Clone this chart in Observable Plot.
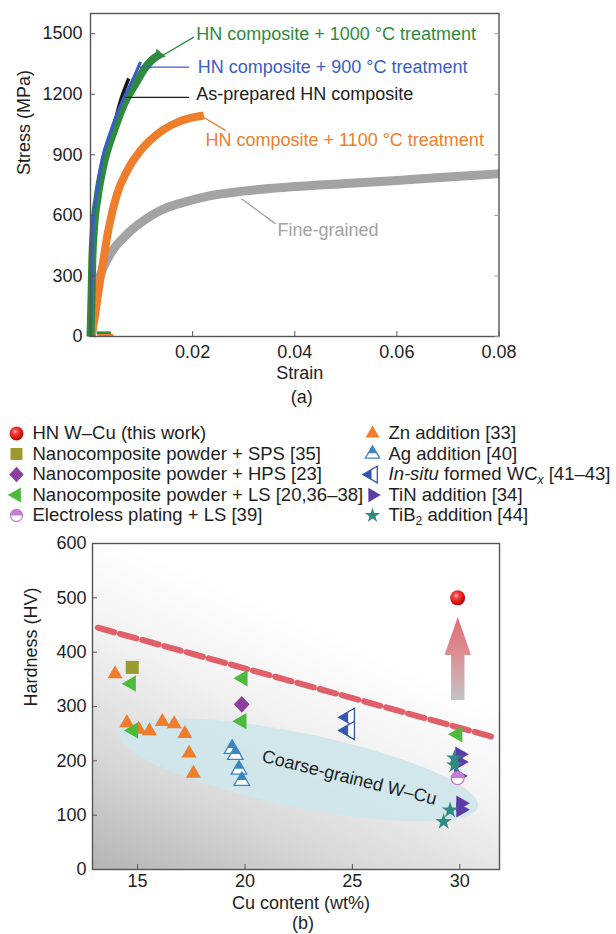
<!DOCTYPE html>
<html><head><meta charset="utf-8">
<script src="https://cdn.jsdelivr.net/npm/d3@7"></script>
<script src="https://cdn.jsdelivr.net/npm/@observablehq/plot@0.6"></script>
<style>
body{margin:0;background:#fff;}
#wrap{width:616px;}
#wrap svg{display:block;}
</style></head><body><div id="wrap"></div>
<script>
// ================= DATA: (a) stress–strain curves =================
const fineStrain = [0.0001, 0.0002, 0.00065, 0.001, 0.002, 0.0039, 0.0072, 0.0104, 0.0137, 0.0183, 0.0235, 0.03, 0.04, 0.05, 0.06, 0.07, 0.08];
const fineStress = [0, 15, 145, 228, 310, 409, 508, 574, 624, 665, 698, 720, 743, 758, 773, 790, 806];

const t1100Strain = [0.0002, 0.0006, 0.001, 0.0013, 0.0023, 0.0036, 0.0052, 0.0072, 0.0098, 0.0131, 0.017, 0.0202, 0.0222];
const t1100Stress = [0, 60, 120, 178, 343, 541, 706, 822, 921, 1003, 1061, 1086, 1095];

const asPrepStrain = [0, 0.0002, 0.0004, 0.001, 0.002, 0.0039, 0.0059, 0.0075];
const asPrepStress = [0, 300, 480, 600, 757, 971, 1169, 1278];

const t1000Strain = [0, 0.0001, 0.0002, 0.00033, 0.00065, 0.0014, 0.0026, 0.0046, 0.0069, 0.0088, 0.0108, 0.0127, 0.0134];
const t1000Stress = [0, 100, 193, 358, 523, 690, 855, 1020, 1169, 1251, 1334, 1383, 1393];

const t900Strain = [0, 0.0001, 0.00024, 0.00045, 0.0011, 0.0021, 0.004, 0.0063, 0.0085, 0.0098];
const t900Stress = [0, 150, 358, 523, 690, 855, 1020, 1169, 1285, 1360];

const t1000TailStrain = [0.0012, 0.004], t1000TailStress = [18, 18];
const t1100TailStrain = [0.0013, 0.0045], t1100TailStress = [5, 5];

const strainTicks = [0.02, 0.04, 0.06, 0.08];
const stressTicks = [0, 300, 600, 900, 1200, 1500];

const curveLabels = [
  {text: "HN composite + 1000 °C treatment", color: "#2e8a3c", tx: 0.0207, ty: 1499, x1: 0.01412, y1: 1392, x2: 0.02023, y2: 1483},
  {text: "HN composite + 900 °C treatment", color: "#3a5cc8", tx: 0.0210, ty: 1334, x1: 0.00954, y1: 1334, x2: 0.01931, y2: 1334},
  {text: "As-prepared HN composite", color: "#1e1e1e", tx: 0.0207, ty: 1202, x1: 0.00685, y1: 1185, x2: 0.01931, y2: 1185},
  {text: "HN composite + 1100 °C treatment", color: "#ee7e2c", tx: 0.0225, ty: 971, x1: 0.02213, y1: 1086, x2: 0.0265, y2: 1020},
  {text: "Fine-grained", color: "#a2a2a2", tx: 0.0366, ty: 525, x1: 0.02957, y1: 682, x2: 0.03627, y2: 558}
];

// ================= DATA: (b) hardness vs Cu content =================
const hnX = [29.9], hnY = [500];
const spsX = [14.75], spsY = [372];
const hpsX = [19.85], hpsY = [304];
const lsX = [14.7, 14.8, 19.9, 19.85, 29.9], lsY = [342, 256, 352, 273, 249];
const elX = [29.9], elY = [168];
const znX = [13.95, 14.5, 15.05, 15.55, 16.15, 16.7, 17.2, 17.4, 17.6];
const znY = [360, 270, 258, 255, 272, 268, 250, 214, 177];
const agX = [19.4, 19.55, 19.72, 19.85], agY = [222, 211, 184, 163];
const wcX = [24.85, 24.85], wcY = [280, 256];
const tinX = [30.0, 30.0, 29.95, 30.05, 30.05], tinY = [212, 198, 172, 122, 110];
const tibX = [29.75, 29.75, 29.55, 29.25], tibY = [205, 192, 109, 88];

const boundX = [13.15, 31.45], boundY = [445, 245];
const coarseRegion = {from: [14.17, 250], to: [30.87, 115]};
const arrowSpec = {x: 29.93, from: 311, head: 394, to: 464};
const coarseLabel = [{x: 24.86, y: 169, text: "Coarse-grained W–Cu"}];

const cuTicks = [15, 20, 25, 30];
const hvTicks = [0, 100, 200, 300, 400, 500, 600];

const legendItems = [
  {key: "hn", label: "HN W–Cu (this work)", col: 0, row: 0},
  {key: "sps", label: "Nanocomposite powder + SPS [35]", col: 0, row: 1},
  {key: "hps", label: "Nanocomposite powder + HPS [23]", col: 0, row: 2},
  {key: "ls", label: "Nanocomposite powder + LS [20,36–38]", col: 0, row: 3},
  {key: "el", label: "Electroless plating + LS [39]", col: 0, row: 4},
  {key: "zn", label: "Zn addition [33]", col: 1, row: 0},
  {key: "ag", label: "Ag addition [40]", col: 1, row: 1},
  {key: "wc", label: "In-situ formed WCx [41–43]", col: 1, row: 2},
  {key: "tin", label: "TiN addition [34]", col: 1, row: 3},
  {key: "tib", label: "TiB2 addition [44]", col: 1, row: 4}
];

// ================= helpers =================
const zip = (xs, ys, extra = {}) => xs.map((x, i) => ({x, y: ys[i], ...extra}));
const poly = (pts) => ({draw(ctx, size) {
  const r = Math.sqrt(size / Math.PI);
  pts.forEach(([px, py], i) => i ? ctx.lineTo(px * r, py * r) : ctx.moveTo(px * r, py * r));
  ctx.closePath();
}});
const triUp = poly([[0, -1.5], [1.3, 0.75], [-1.3, 0.75]]);
const triUpTop = poly([[0, -1.5], [0.78, -0.15], [-0.78, -0.15]]);
const triLeft = poly([[-1.5, 0], [0.75, -1.3], [0.75, 1.3]]);
const triLeftTip = poly([[-1.5, 0], [-0.15, -0.78], [-0.15, 0.78]]);
const triRight = poly([[1.5, 0], [-0.75, -1.3], [-0.75, 1.3]]);
const square = poly([[-1, -1], [1, -1], [1, 1], [-1, 1]]);
const diamond = poly([[0, -1.3], [1.2, 0], [0, 1.3], [-1.2, 0]]);
const halfTop = {draw(ctx, size) {
  const r = Math.sqrt(size / Math.PI);
  ctx.moveTo(-r, 0); ctx.arc(0, 0, r, Math.PI, 2 * Math.PI); ctx.closePath();
}};

const markerStyles = {
  hn: {r: 7.5, parts: [{symbol: "circle", fill: "url(#sphereGrad)"}]},
  sps: {r: 6.5, parts: [{symbol: square, fill: "#9c9a2e"}]},
  hps: {r: 6.5, parts: [{symbol: diamond, fill: "#8d3f9f"}]},
  ls: {r: 6.3, parts: [{symbol: triLeft, fill: "#4cbb3a"}]},
  el: {r: 6.5, parts: [{symbol: "circle", fill: "white", stroke: "#c27fd0", strokeWidth: 1.3}, {symbol: halfTop, fill: "#c27fd0"}]},
  zn: {r: 5.8, parts: [{symbol: triUp, fill: "#ee7d2c"}]},
  ag: {r: 6, parts: [{symbol: triUp, fill: "white", stroke: "#3b86c2", strokeWidth: 1.3}, {symbol: triUpTop, fill: "#3b86c2"}]},
  wc: {r: 7, parts: [{symbol: triLeft, fill: "white", stroke: "#3556b0", strokeWidth: 1.3}, {symbol: triLeftTip, fill: "#3556b0"}]},
  tin: {r: 6, parts: [{symbol: triRight, fill: "#5a3ba8"}]},
  tib: {r: 5.2, parts: [{symbol: "star", fill: "#2f8c84"}]}
};
function markerMarks(key, data, scale = 1) {
  const s = markerStyles[key];
  return s.parts.map(p => Plot.dot(data, {
    x: "x", y: "y", r: s.r * scale, symbol: p.symbol, fill: p.fill,
    stroke: p.stroke || "none", strokeWidth: p.strokeWidth || 0
  }));
}
const FONT = "Liberation Sans, Arial, Helvetica, sans-serif";
const baseStyle = {fontFamily: FONT, fontSize: "18px", color: "#1e1e1e", background: "white"};
const FRAME = "#555";

function axes(xTicks, yTicks, xFmt, padX, padY, rightTicks) {
  const m = [
    Plot.axisX({ticks: xTicks, tickSize: 0, tickPadding: padX, tickFormat: xFmt, label: null}),
    Plot.axisX({ticks: xTicks, tickSize: -5, tickFormat: () => "", label: null, stroke: FRAME}),
    Plot.axisY({ticks: yTicks, tickSize: 0, tickPadding: padY, tickFormat: d => String(d), label: null}),
    Plot.axisY({ticks: yTicks, tickSize: -5, tickFormat: () => "", label: null, stroke: FRAME})
  ];
  if (rightTicks) m.push(Plot.axisY({ticks: yTicks, anchor: "right", tickSize: -5, tickFormat: () => "", label: null, stroke: "#999"}));
  return m;
}

const wrap = document.getElementById("wrap");

// ================= (a) =================
const curve = (xs, ys, stroke, w) => Plot.line(zip(xs, ys), {x: "x", y: "y", stroke, strokeWidth: w, curve: "monotone-x", strokeLinecap: "butt", strokeLinejoin: "round"});
const greenEnd = [{x: t1000Strain[t1000Strain.length - 1], y: t1000Stress[t1000Stress.length - 1]}];
const plotA = Plot.plot({
  width: 616, height: 410,
  marginTop: 13, marginBottom: 74, marginLeft: 90, marginRight: 117.5,
  x: {domain: [0, 0.08]}, y: {domain: [0, 1600]},
  style: baseStyle,
  marks: [
    curve(fineStrain, fineStress, "#a3a3a3", 9),
    curve(t1100Strain, t1100Stress, "#ee7e2c", 8),
    curve(t1000TailStrain, t1000TailStress, "#2e8a3c", 3),
    curve(t1100TailStrain, t1100TailStress, "#ee7e2c", 3),
    curve(asPrepStrain, asPrepStress, "#161616", 3.5),
    curve(t1000Strain, t1000Stress, "#2e8a3c", 8),
    Plot.dot(greenEnd, {x: "x", y: "y", symbol: triRight, r: 4.6, fill: "#2e8a3c", rotate: 10}),
    curve(t900Strain, t900Stress, "#3a5cc8", 3),
    ...curveLabels.flatMap(a => [
      Plot.link([a], {x1: "x1", y1: "y1", x2: "x2", y2: "y2", stroke: a.color, strokeWidth: 1.3}),
      Plot.text([a], {x: "tx", y: "ty", text: "text", fill: a.color, textAnchor: "start", lineAnchor: "middle", fontSize: 18})
    ]),
    Plot.frame({stroke: FRAME, strokeWidth: 1.4}),
    ...axes(strainTicks, stressTicks, d => d.toFixed(2), 9, 8, true),
    Plot.text(["Stress (MPa)"], {frameAnchor: "left", dx: -66, rotate: -90, text: d => d, lineAnchor: "middle", fontSize: 18}),
    Plot.text(["Strain"], {frameAnchor: "bottom", dy: 37, dx: 5, text: d => d, lineAnchor: "middle", fontSize: 18}),
    Plot.text(["(a)"], {frameAnchor: "bottom", dy: 61, dx: 7, text: d => d, lineAnchor: "middle", fontSize: 18})
  ]
});
wrap.appendChild(plotA);

// ================= legend =================
const legendPlot = Plot.plot({
  width: 616, height: 123, margin: 0,
  x: {domain: [0, 1], range: [16, 372], axis: null},
  y: {domain: [0, 4], range: [23, 105], axis: null},
  style: baseStyle,
  marks: [
    ...Object.keys(markerStyles).flatMap(k => markerMarks(k, legendItems.filter(d => d.key === k).map(d => ({x: d.col, y: d.row})), 0.92)),
    Plot.text(legendItems, {x: "col", y: "row", text: "label", dx: 16, textAnchor: "start", lineAnchor: "middle", fontSize: 18.5, fill: "#1e1e1e"})
  ]
});
legendPlot.querySelectorAll("text").forEach(t => {
  if (t.textContent === "In-situ formed WCx [41–43]") {
    t.innerHTML = '<tspan font-style="italic">In-situ</tspan> formed WC<tspan font-style="italic" font-size="12" dy="4">x</tspan><tspan dy="-4"> [41–43]</tspan>';
  } else if (t.textContent === "TiB2 addition [44]") {
    t.innerHTML = 'TiB<tspan font-size="12" dy="4">2</tspan><tspan dy="-4"> addition [44]</tspan>';
  }
});
wrap.appendChild(legendPlot);

// ================= (b) =================
const SVGNS = "http://www.w3.org/2000/svg";
const ellipseMark = (index, scales) => {
  const x1 = scales.x(coarseRegion.from[0]), y1 = scales.y(coarseRegion.from[1]);
  const x2 = scales.x(coarseRegion.to[0]), y2 = scales.y(coarseRegion.to[1]);
  const cx = (x1 + x2) / 2, cy = (y1 + y2) / 2;
  const a = Math.hypot(x2 - x1, y2 - y1) / 2, ang = Math.atan2(y2 - y1, x2 - x1) * 180 / Math.PI;
  const el = document.createElementNS(SVGNS, "ellipse");
  el.setAttribute("cx", cx); el.setAttribute("cy", cy);
  el.setAttribute("rx", a); el.setAttribute("ry", 37);
  el.setAttribute("transform", `rotate(${ang} ${cx} ${cy})`);
  el.setAttribute("fill", "#cfe6eb"); el.setAttribute("fill-opacity", "0.92");
  return el;
};
const arrowMark = (index, scales) => {
  const x = scales.x(arrowSpec.x), yb = scales.y(arrowSpec.from), yh = scales.y(arrowSpec.head), yt = scales.y(arrowSpec.to);
  const p = document.createElementNS(SVGNS, "path");
  p.setAttribute("d", `M${x - 6.7},${yb}L${x - 6.7},${yh}L${x - 13.3},${yh}L${x},${yt}L${x + 13.3},${yh}L${x + 6.7},${yh}L${x + 6.7},${yb}Z`);
  p.setAttribute("fill", "url(#arrowGrad)");
  return p;
};

const plotB = Plot.plot({
  width: 616, height: 401,
  marginTop: 10, marginBottom: 65, marginLeft: 92, marginRight: 117,
  x: {domain: [12.9, 31.85]}, y: {domain: [0, 600]},
  style: baseStyle,
  marks: [
    Plot.frame({fill: "url(#bgGrad)", stroke: "none"}),
    ellipseMark,
    Plot.line(zip(boundX, boundY), {x: "x", y: "y", stroke: "#e15f69", strokeWidth: 6, strokeDasharray: "17,6"}),
    arrowMark,
    Plot.text(coarseLabel, {x: "x", y: "y", text: "text", rotate: 14, fontSize: 18, fill: "#1e1e1e", lineAnchor: "middle"}),
    ...markerMarks("zn", zip(znX, znY)),
    ...markerMarks("ag", zip(agX, agY)),
    ...markerMarks("wc", zip(wcX, wcY)),
    ...markerMarks("tin", zip(tinX, tinY)),
    ...markerMarks("tib", zip(tibX, tibY)),
    ...markerMarks("ls", zip(lsX, lsY)),
    ...markerMarks("sps", zip(spsX, spsY)),
    ...markerMarks("hps", zip(hpsX, hpsY)),
    ...markerMarks("el", zip(elX, elY)),
    ...markerMarks("hn", zip(hnX, hnY)),
    Plot.frame({stroke: FRAME, strokeWidth: 1.4}),
    ...axes(cuTicks, hvTicks, d => String(d), 5, 6, false),
    Plot.text(["Hardness (HV)"], {frameAnchor: "left", dx: -61, rotate: -90, text: d => d, lineAnchor: "middle", fontSize: 18}),
    Plot.text(["Cu content (wt%)"], {frameAnchor: "bottom", dy: 34, dx: 5, text: d => d, lineAnchor: "middle", fontSize: 18}),
    Plot.text(["(b)"], {frameAnchor: "bottom", dy: 54, dx: 7, text: d => d, lineAnchor: "middle", fontSize: 18})
  ]
});
const defs = document.createElementNS(SVGNS, "defs");
defs.innerHTML = `
  <linearGradient id="bgGrad" x1="0" y1="1" x2="0.45" y2="0.2">
    <stop offset="0" stop-color="#b4b4b4"/>
    <stop offset="0.35" stop-color="#d8d8d8"/>
    <stop offset="0.7" stop-color="#f2f2f2"/>
    <stop offset="1" stop-color="#ffffff"/>
  </linearGradient>
  <linearGradient id="arrowGrad" x1="0" y1="0" x2="0" y2="1">
    <stop offset="0" stop-color="#e06e78"/>
    <stop offset="0.4" stop-color="#dc8a90"/>
    <stop offset="1" stop-color="#c4c4c4"/>
  </linearGradient>
  <radialGradient id="sphereGrad" cx="0.4" cy="0.35" r="0.65">
    <stop offset="0" stop-color="#ffd6d6"/>
    <stop offset="0.22" stop-color="#ff4a4a"/>
    <stop offset="0.7" stop-color="#dc1616"/>
    <stop offset="1" stop-color="#a30a0a"/>
  </radialGradient>`;
plotB.insertBefore(defs, plotB.firstChild);
wrap.appendChild(plotB);
</script></body></html>
